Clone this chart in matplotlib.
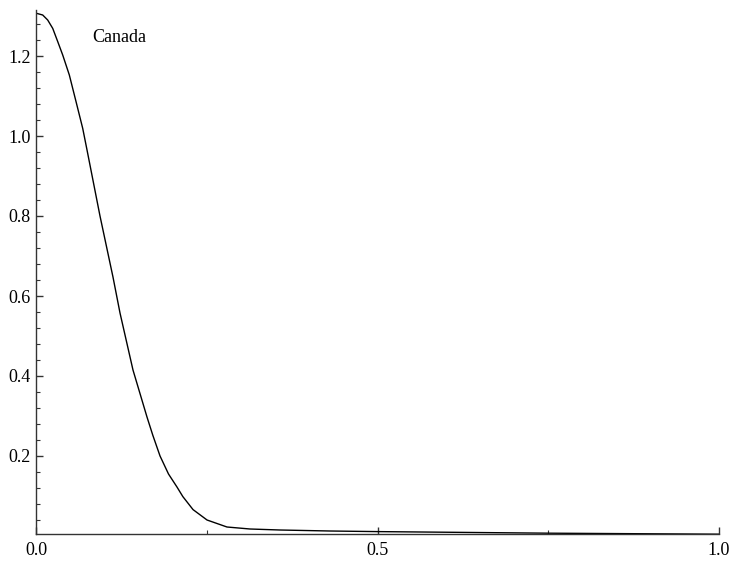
import matplotlib
matplotlib.use("Agg")
import matplotlib.pyplot as plt
from matplotlib.ticker import MultipleLocator

# values
x_vals = [0.0, 0.0098, 0.0171, 0.0245, 0.0318, 0.0391, 0.0488, 0.0586, 0.0684,
          0.0747, 0.0937, 0.1127, 0.123, 0.142, 0.1625, 0.171, 0.1816, 0.194,
          0.2064, 0.215, 0.2299, 0.2504, 0.2796, 0.3133, 0.357, 0.43, 0.5,
          0.7526, 1.0]
y_vals = [1.307, 1.3025, 1.29, 1.269, 1.236, 1.2025, 1.1525, 1.086, 1.019,
          0.965, 0.80, 0.6475, 0.5575, 0.415, 0.2975, 0.252, 0.2, 0.155,
          0.1225, 0.0985, 0.066, 0.04, 0.0225, 0.0175, 0.015, 0.0125, 0.011,
          0.007, 0.0045]
label = "Canada"

plt.rcParams["font.family"] = ["Liberation Serif", "DejaVu Serif"]

fig = plt.figure(figsize=(7.34, 5.65), dpi=100)
ax = fig.add_axes([36 / 734, 31 / 565, 683 / 734, 524 / 565])

ax.plot(x_vals, y_vals, color="black", lw=1.0, solid_joinstyle="round")
ax.text(0.083, 1.2475, label, fontsize=13, va="center", ha="left")

ax.set_xlim(0, 1)
ax.set_ylim(0.005, 1.315)

ax.spines["top"].set_visible(False)
ax.spines["right"].set_visible(False)
for s in ("left", "bottom"):
    ax.spines[s].set_color("#333333")
    ax.spines[s].set_linewidth(1.0)

ax.xaxis.set_major_locator(MultipleLocator(0.5))
ax.xaxis.set_minor_locator(MultipleLocator(0.25))
ax.yaxis.set_minor_locator(MultipleLocator(0.04))
ax.set_yticks([0.2, 0.4, 0.6, 0.8, 1.0, 1.2])
ax.xaxis.set_major_formatter(plt.FuncFormatter(lambda v, p: f"{v:.1f}"))
ax.yaxis.set_major_formatter(plt.FuncFormatter(lambda v, p: f"{v:.1f}"))

ax.tick_params(which="both", direction="in", colors="#333333", labelcolor="black",
               labelsize=13)
ax.tick_params(which="major", length=5, width=1)
ax.tick_params(which="minor", length=3, width=0.8)
ax.tick_params(axis="x", pad=6)
ax.tick_params(axis="y", pad=4)

fig.savefig("out.png", dpi=100)
